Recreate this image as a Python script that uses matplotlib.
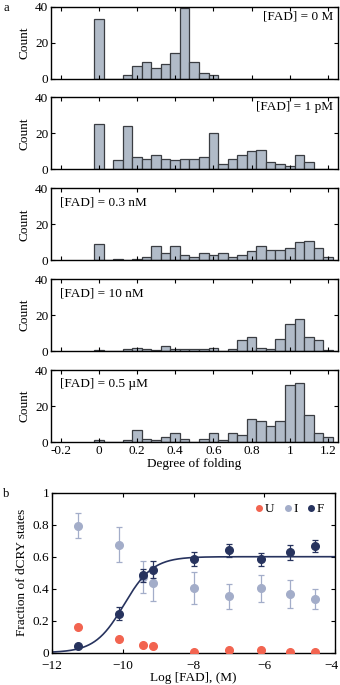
import numpy as np
import matplotlib
matplotlib.use("Agg")
import matplotlib.pyplot as plt
import matplotlib.transforms as mtrans
from matplotlib.lines import Line2D

plt.rcParams['font.family'] = ['Liberation Serif', 'DejaVu Serif']
plt.rcParams['font.size'] = 9.5

# panel a: histograms of degree of folding (bins of width 0.05, centres 0.0 .. 1.2)
bin_centers = [0.00, 0.05, 0.10, 0.15, 0.20, 0.25, 0.30, 0.35, 0.40, 0.45, 0.50, 0.55, 0.60,
               0.65, 0.70, 0.75, 0.80, 0.85, 0.90, 0.95, 1.00, 1.05, 1.10, 1.15, 1.20]
counts_0M = [33, 0, 0, 2, 7, 9, 6, 8, 14, 39, 9, 3, 2, 0, 0, 0, 0, 0, 0, 0, 0, 0, 0, 0, 0]
counts_1pM = [25, 0, 5, 24, 7, 6, 8, 6, 5, 6, 6, 7, 20, 3, 6, 8, 10, 11, 4, 3, 2, 8, 4, 0, 0]
counts_03nM = [9, 0, 1, 0, 1, 2, 8, 4, 8, 3, 2, 4, 3, 4, 2, 3, 5, 8, 6, 6, 7, 10, 11, 7, 2]
counts_10nM = [0.5, 0, 0, 1, 2, 1, 0.5, 3, 1, 1, 1, 1, 2, 0, 1, 6, 8, 2, 1, 7, 15, 18, 8, 6, 0.5]
counts_05uM = [1, 0, 0, 1, 7, 2, 1, 3, 5, 2, 0, 2, 5, 1, 5, 4, 13, 12, 9, 12, 32, 33, 15, 5, 3]
hist_labels = ['[FAD] = 0 M', '[FAD] = 1 pM', '[FAD] = 0.3 nM', '[FAD] = 10 nM', '[FAD] = 0.5 \u00b5M']

# panel b: fractions of U / I / F states vs log [FAD]
log_fad = [-11.27, -10.12, -9.42, -9.15, -8.0, -7.0, -6.08, -5.28, -4.57]
frac_U = [0.16, 0.085, 0.046, 0.04, 0.006, 0.014, 0.014, 0.006, 0.002]
frac_I = [0.795, 0.675, 0.475, 0.435, 0.405, 0.352, 0.402, 0.365, 0.336]
err_I = [0.08, 0.11, 0.10, 0.11, 0.10, 0.08, 0.083, 0.087, 0.06]
frac_F = [0.04, 0.244, 0.484, 0.52, 0.584, 0.64, 0.585, 0.627, 0.667]
err_F = [0.0, 0.04, 0.04, 0.055, 0.045, 0.04, 0.04, 0.045, 0.04]
# Hill fit of the F fraction
fit_amp, fit_x0, fit_n = 0.6, -9.966, 1.06

W, H = 340.0, 685.0
def px_axes(left, top, right, bottom):
    return fig.add_axes([left / W, 1 - bottom / H, (right - left) / W, (bottom - top) / H])

bar_face = '#B1BBC8'
bar_edge = '#3A3D42'
c_U, c_I, c_F = '#F26450', '#A3ADC9', '#27335E'

fig = plt.figure(figsize=(3.4, 6.85), dpi=100)

all_counts = [counts_0M, counts_1pM, counts_03nM, counts_10nM, counts_05uM]
for i, counts in enumerate(all_counts):
    top = 6.5 + 90.9 * i
    ax = px_axes(51, top, 337.5, top + 72)
    ax.bar(bin_centers, counts, width=0.05, color=bar_face, edgecolor=bar_edge, linewidth=0.9)
    ax.set_xlim(-0.25, 1.25)
    ax.set_ylim(0, 40)
    ax.set_yticks([0, 20, 40])
    ax.set_xticks([-0.2, 0, 0.2, 0.4, 0.6, 0.8, 1, 1.2])
    ax.tick_params(direction='in', length=3, width=0.8, top=True, right=True, pad=2)
    for s in ax.spines.values():
        s.set_linewidth(1.0)
    ax.set_ylabel('Count', labelpad=3)
    if i < 4:
        ax.set_xticklabels([])
    else:
        ax.set_xticklabels(['-0.2', '0', '0.2', '0.4', '0.6', '0.8', '1', '1.2'])
        ax.set_xlabel('Degree of folding', labelpad=1)
    if i < 2:
        ax.text(0.985, 0.86, hist_labels[i], transform=ax.transAxes, ha='right', va='center')
    else:
        ax.text(0.03, 0.80, hist_labels[i], transform=ax.transAxes, ha='left', va='center')

fig.text(3 / W, 1 - 8 / H, 'a', ha='left', va='center', fontsize=9)

# panel b
axb = px_axes(52, 492.7, 335, 652.7)
xs = np.linspace(-12, -4, 400)
axb.plot(xs, fit_amp / (1 + 10 ** (fit_n * (fit_x0 - xs))), color=c_F, lw=1.2, zorder=2)
axb.errorbar(log_fad, frac_I, yerr=err_I, fmt='o', color=c_I, ms=5.5, elinewidth=0.9,
             capsize=2, capthick=0.9, zorder=1)
axb.errorbar(log_fad, frac_F, yerr=err_F, fmt='o', color=c_F, ms=5.5, elinewidth=0.9,
             capsize=2, capthick=0.9, zorder=3)
axb.plot(log_fad, frac_U, 'o', color=c_U, ms=5.5, zorder=3)
axb.set_xlim(-12, -4)
axb.set_ylim(0, 1)
axb.set_xticks([-12, -10, -8, -6, -4])
axb.set_yticks([0, 0.2, 0.4, 0.6, 0.8, 1])
axb.set_yticklabels(['0', '0.2', '0.4', '0.6', '0.8', '1'])
axb.tick_params(direction='in', length=3, width=0.8, top=True, right=True, pad=2)
axb.tick_params(axis='x', pad=5)
for s in axb.spines.values():
    s.set_linewidth(1.0)
axb.set_xlabel('Log [FAD], (M)', labelpad=0)
axb.set_ylabel('Fraction of dCRY states', labelpad=3)
# keep the "-4" label inside the picture
fig.canvas.draw()
last = axb.get_xticklabels()[-1]
last.set_transform(last.get_transform() + mtrans.ScaledTranslation(-4 / 100, 0, fig.dpi_scale_trans))

handles = [Line2D([], [], marker='o', ls='', color=c, ms=4) for c in (c_U, c_I, c_F)]
axb.legend(handles, ['U', 'I', 'F'], loc='upper right', ncol=3, frameon=False,
           handlelength=0.6, handletextpad=0.15, columnspacing=0.7,
           borderaxespad=0.4, fontsize=9.5)

fig.text(3 / W, 1 - 494 / H, 'b', ha='left', va='center', fontsize=9)

fig.savefig('out.png', dpi=100)
